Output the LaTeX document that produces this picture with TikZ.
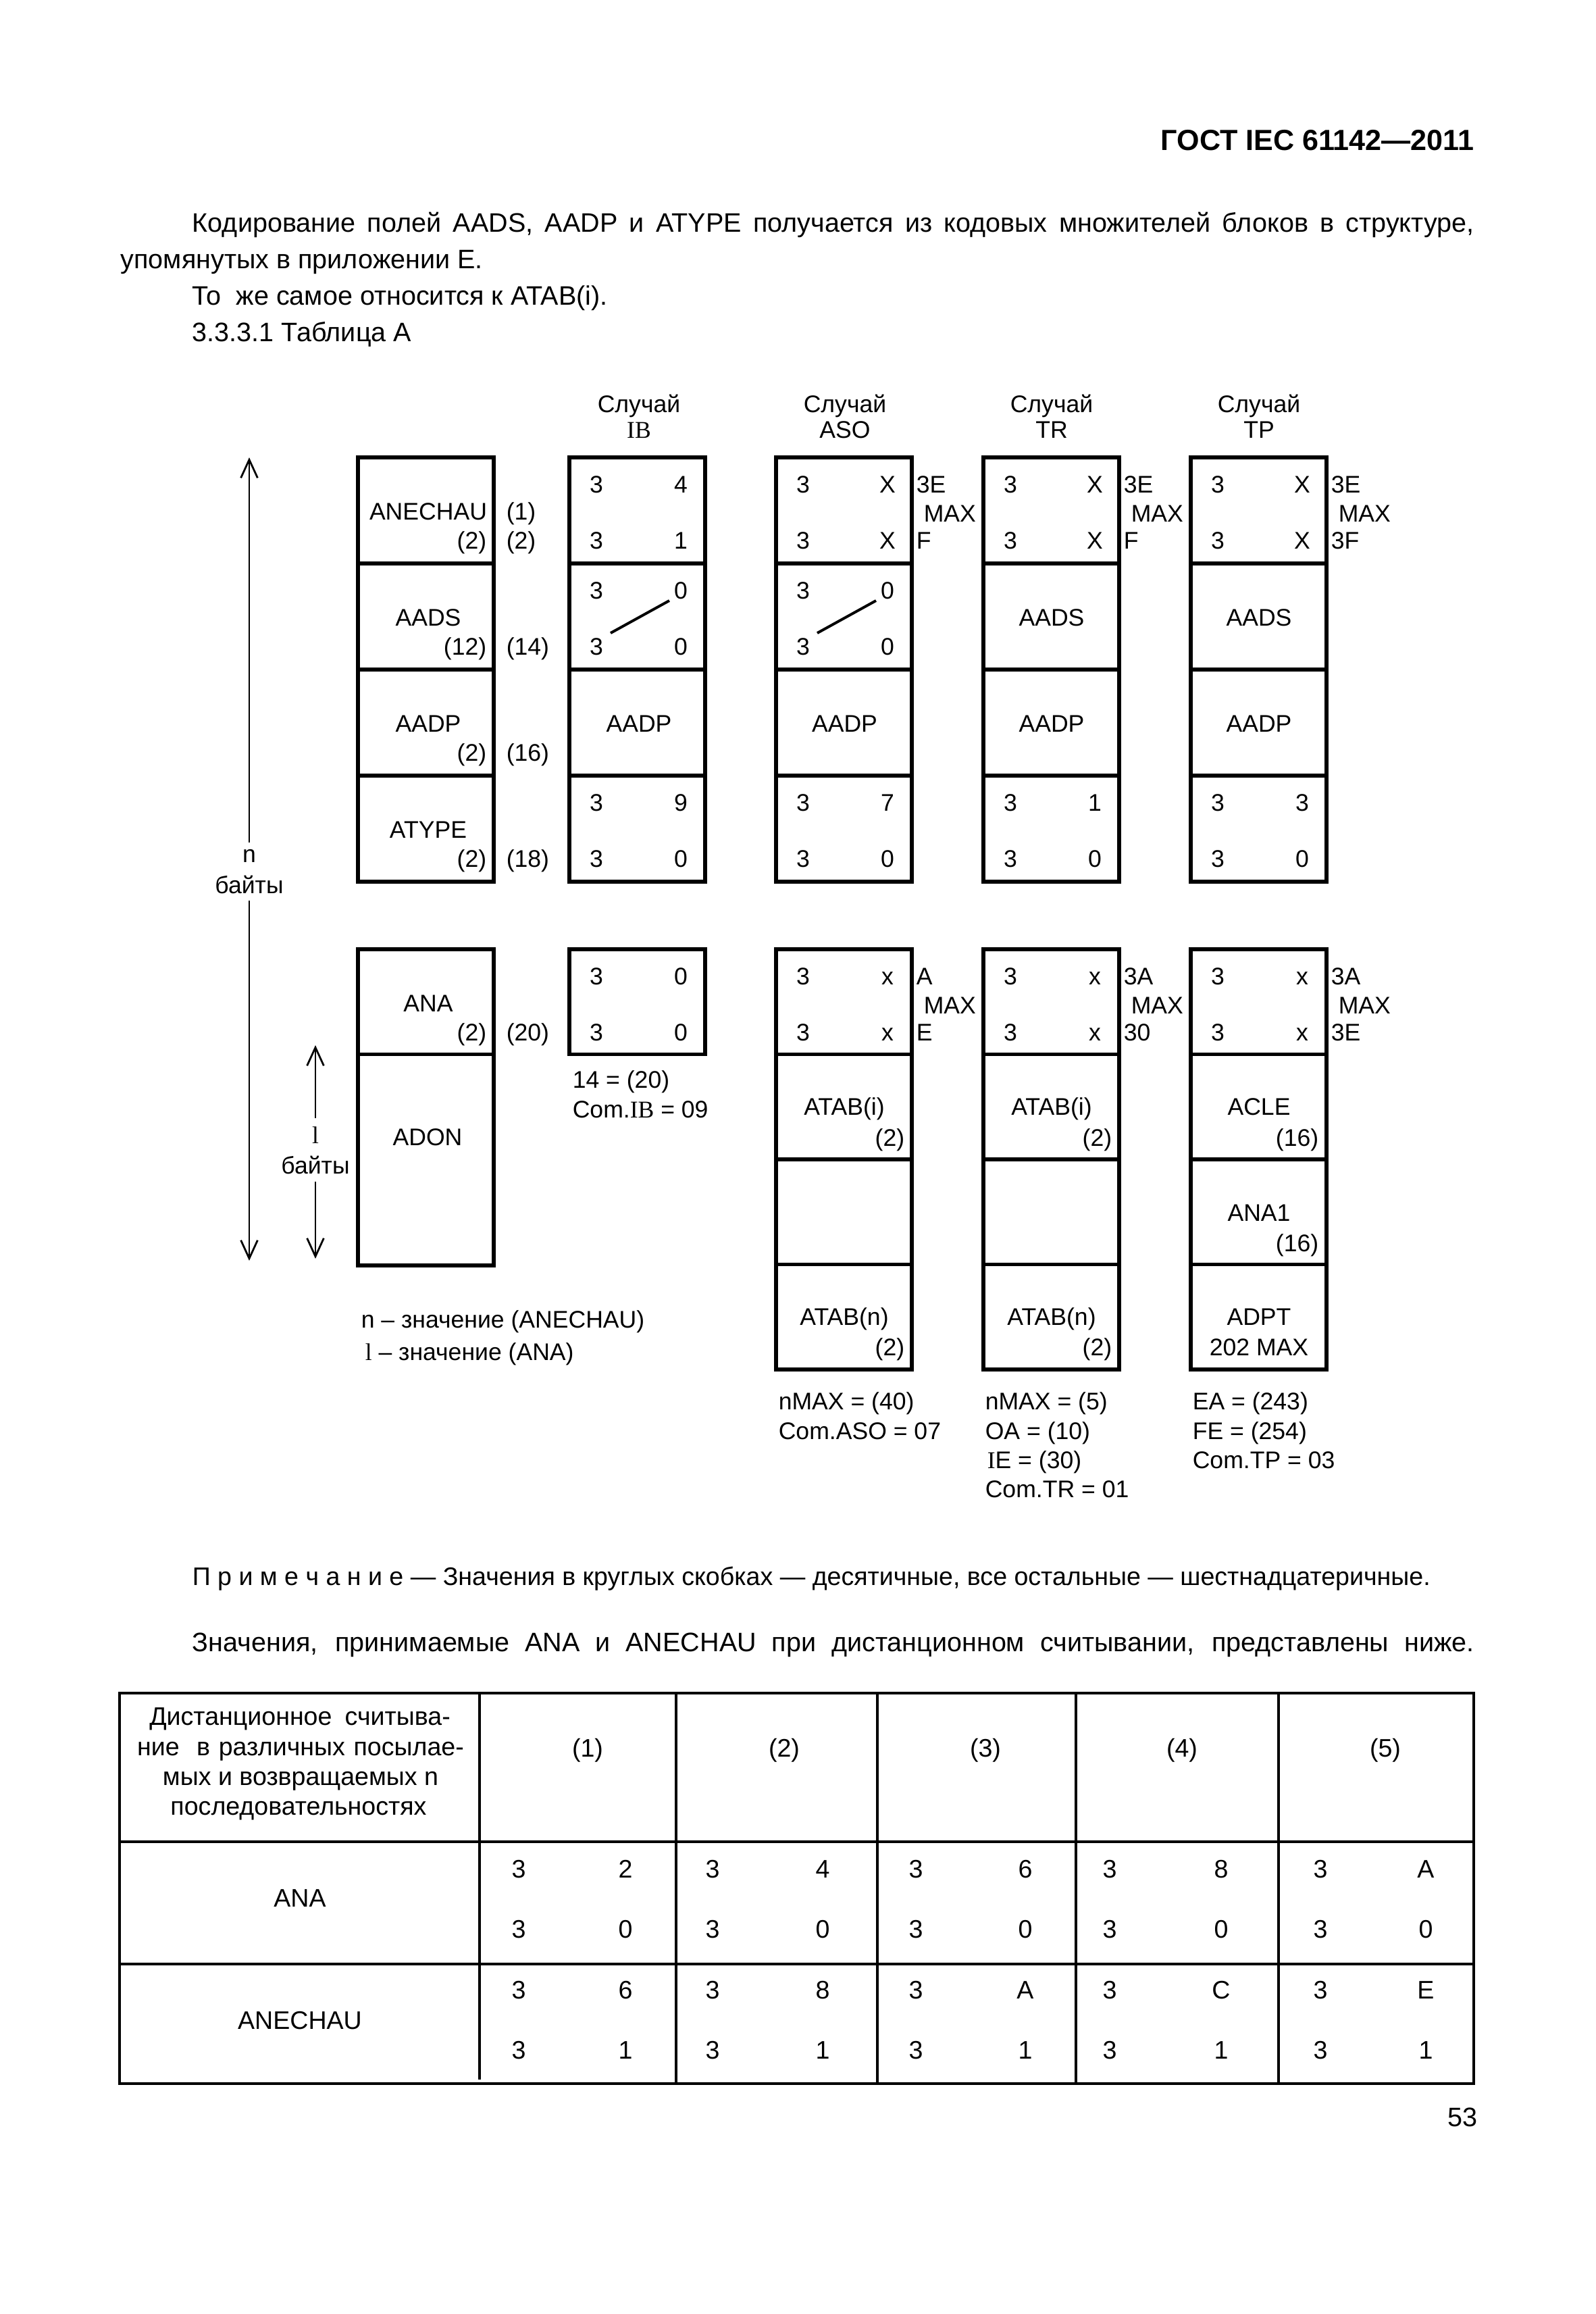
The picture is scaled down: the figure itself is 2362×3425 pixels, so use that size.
\documentclass[tikz,border=0pt]{standalone}
\usepackage{fontspec}
\setmainfont{Liberation Sans}
\newfontfamily\tnr{Liberation Serif}
\usetikzlibrary{arrows.meta}
\newcommand\fsD{\fontsize{9pt}{11pt}\selectfont}
\newcommand\fsB{\fontsize{10pt}{12pt}\selectfont}
\newcommand\fsT{\fontsize{9.5pt}{11pt}\selectfont}
\tikzset{
  box/.style={line width=1.3pt},
  tbl/.style={line width=1pt},
  tblthin/.style={line width=0.8pt},
  diag/.style={line width=1pt},
  arr/.style={line width=0.7pt,-{Straight Barb[length=2.4mm,width=2.2mm]}},
  dt/.style={inner sep=0pt,font=\fsD,anchor=base},
  dtl/.style={dt,anchor=base west},
  dtr/.style={dt,anchor=base east},
  tt/.style={inner sep=0pt,font=\fsT,anchor=base},
  body/.style={inner sep=0pt,font=\fsB,anchor=base west},
}
% column of 4 rows: left, top, row height
\newcommand\colbox[3]{%
  \draw[box] (#1,#2) rectangle ({#1+201},{#2+4*#3});
  \foreach \k in {1,2,3}{\draw[box] (#1,{#2+\k*#3}) -- ({#1+201},{#2+\k*#3});}
}
% four digits in a cell: name, left, top, a, b, c, d
\newcommand\numcell[7]{%
  \node[dt] (#1a) at ({#2+40},{#3+52}) {#4};
  \node[dt] (#1b) at ({#2+165},{#3+52}) {#5};
  \node[dt] (#1c) at ({#2+40},{#3+135}) {#6};
  \node[dt] (#1d) at ({#2+165},{#3+135}) {#7};
}
% side labels: name, left of column, top, t1, t2, t3
\newcommand\sidelab[6]{%
  \node[dtl] (#1a) at ({#2+207},{#3+52}) {#4};
  \node[dtl] (#1b) at ({#2+218},{#3+95}) {#5};
  \node[dtl] (#1c) at ({#2+207},{#3+135}) {#6};
}
% diagonal slash: left, top
\newcommand\slashmark[2]{%
  \draw[diag] ({#1+61},{#2+103}) -- ({#1+148},{#2+55});
}
\begin{document}
\begin{tikzpicture}[x=0.0889mm,y=-0.0889mm]
\fill[white] (0,0) rectangle (2362,3425);
\useasboundingbox (0,0) rectangle (2362,3425);

% ---------- header text ----------
\node[inner sep=0pt,anchor=base east,font=\fontsize{10.9pt}{12pt}\selectfont\bfseries] (gost) at (2183,222) {ГОСТ IEC 61142—2011};
\node[body] (p1) at (284,343) {\makebox[168.7mm][s]{Кодирование полей AADS, AADP и ATYPE получается из кодовых множителей блоков в структуре,}};
\node[body] (p2) at (178,397) {упомянутых в приложении Е.};
\node[body] (p3) at (284,451) {То\ \ же самое относится к ATAB(i).};
\node[body] (p4) at (284,505) {3.3.3.1 Таблица А};

% ---------- case headers ----------
\node[dt] (hIB1) at (946,610) {Случай};
\node[dt,font=\fsD\tnr] (hIB2) at (946,648) {IB};
\node[dt] (hASO1) at (1251,610) {Случай};
\node[dt] (hASO2) at (1251,648) {ASO};
\node[dt] (hTR1) at (1557,610) {Случай};
\node[dt] (hTR2) at (1557,648) {TR};
\node[dt] (hTP1) at (1864,610) {Случай};
\node[dt] (hTP2) at (1864,648) {TP};

% ---------- upper structure ----------
\colbox{530}{677}{157}
\node[dt] (ane1) at (634,769) {ANECHAU};
\node[dtr] (ane1s) at (721,812) {(2)};
\node[dtl] (ane1r) at (749,769) {(1)};
\node[dtl] (ane1q) at (749,812) {(2)};
\node[dt] (ane2) at (634,926) {AADS};
\node[dtr] (ane2s) at (721,969) {(12)};
\node[dtl] (ane2q) at (749,969) {(14)};
\node[dt] (ane3) at (634,1083) {AADP};
\node[dtr] (ane3s) at (721,1126) {(2)};
\node[dtl] (ane3q) at (749,1126) {(16)};
\node[dt] (ane4) at (634,1240) {ATYPE};
\node[dtr] (ane4s) at (721,1283) {(2)};
\node[dtl] (ane4q) at (749,1283) {(18)};

% IB
\colbox{843}{677}{157}
\numcell{ibA}{843}{677}{3}{4}{3}{1}
\numcell{ibB}{843}{834}{3}{0}{3}{0}
\slashmark{843}{834}
\node[dt] (ibC) at (946,1083) {AADP};
\numcell{ibD}{843}{1148}{3}{9}{3}{0}

% ASO
\colbox{1149}{677}{157}
\numcell{asA}{1149}{677}{3}{X}{3}{X}
\sidelab{asS}{1149}{677}{3E}{MAX}{F}
\numcell{asB}{1149}{834}{3}{0}{3}{0}
\slashmark{1149}{834}
\node[dt] (asC) at (1250.5,1083) {AADP};
\numcell{asD}{1149}{1148}{3}{7}{3}{0}

% TR
\colbox{1456}{677}{157}
\numcell{trA}{1456}{677}{3}{X}{3}{X}
\sidelab{trS}{1456}{677}{3E}{MAX}{F}
\node[dt] (trB) at (1557,926) {AADS};
\node[dt] (trC) at (1557,1083) {AADP};
\numcell{trD}{1456}{1148}{3}{1}{3}{0}

% TP
\colbox{1763}{677}{157}
\numcell{tpA}{1763}{677}{3}{X}{3}{X}
\sidelab{tpS}{1763}{677}{3E}{MAX}{3F}
\node[dt] (tpB) at (1864,926) {AADS};
\node[dt] (tpC) at (1864,1083) {AADP};
\numcell{tpD}{1763}{1148}{3}{3}{3}{0}

% ---------- lower structure ----------
\draw[box] (530,1405) rectangle (731,1873);
\draw[box] (530,1560.5) -- (731,1560.5);
\node[dt] (ana) at (634,1497) {ANA};
\node[dtr] (anas) at (721,1540) {(2)};
\node[dtl] (anaq) at (749,1540) {(20)};
\node[dt] (adon) at (633,1695) {ADON};

\draw[box] (843,1405) rectangle (1044,1560.5);
\numcell{ibE}{843}{1405}{3}{0}{3}{0}
\node[dtl] (ibN1) at (847,1610) {14 = (20)};
\node[dtl] (ibN2) at (847,1654) {Com.{\tnr IB} = 09};

% ASO lower
\colbox{1149}{1405}{155.5}
\numcell{asE}{1149}{1405}{3}{x}{3}{x}
\sidelab{asT}{1149}{1405}{A}{MAX}{E}
\node[dt] (asF) at (1250,1650) {ATAB(i)};
\node[dtr] (asFs) at (1340,1696) {(2)};
\node[dt] (asH) at (1250,1961) {ATAB(n)};
\node[dtr] (asHs) at (1340,2006) {(2)};
\node[dtl] (asN1) at (1152,2086) {nMAX = (40)};
\node[dtl] (asN2) at (1152,2130) {Com.ASO = 07};

% TR lower
\colbox{1456}{1405}{155.5}
\numcell{trE}{1456}{1405}{3}{x}{3}{x}
\sidelab{trT}{1456}{1405}{3A}{MAX}{30}
\node[dt] (trF) at (1557,1650) {ATAB(i)};
\node[dtr] (trFs) at (1647,1696) {(2)};
\node[dt] (trH) at (1557,1961) {ATAB(n)};
\node[dtr] (trHs) at (1647,2006) {(2)};
\node[dtl] (trN1) at (1458,2086) {nMAX = (5)};
\node[dtl] (trN2) at (1458,2130) {OA = (10)};
\node[dtl] (trN3) at (1461,2173) {{\tnr I}E = (30)};
\node[dtl] (trN4) at (1458,2216) {Com.TR = 01};

% TP lower
\colbox{1763}{1405}{155.5}
\numcell{tpE}{1763}{1405}{3}{x}{3}{x}
\sidelab{tpT}{1763}{1405}{3A}{MAX}{3E}
\node[dt] (tpF) at (1864,1650) {ACLE};
\node[dtr] (tpFs) at (1953,1696) {(16)};
\node[dt] (tpG) at (1864,1807) {ANA1};
\node[dtr] (tpGs) at (1953,1852) {(16)};
\node[dt] (tpH) at (1864,1961) {ADPT};
\node[dt] (tpHs) at (1864,2006) {202 MAX};
\node[dtl] (tpN1) at (1765,2086) {EA = (243)};
\node[dtl] (tpN2) at (1765,2130) {FE = (254)};
\node[dtl] (tpN3) at (1765,2173) {Com.TP = 03};

% ---------- arrows ----------
\coordinate (ntop) at (369,677);
\coordinate (nbot) at (369,1866);
\coordinate (na1) at (369,1247);
\coordinate (na2) at (369,1333);
\node[dt] (nn) at (369,1276) {n};
\node[dt] (nby) at (369,1322) {байты};
\draw[arr] (na1) -- (ntop);
\draw[arr] (na2) -- (nbot);

\coordinate (ltop) at (467,1547);
\coordinate (lbot) at (467,1863);
\coordinate (la1) at (467,1655);
\coordinate (la2) at (467,1749);
\node[dt,font=\fsD\tnr] (ll) at (467,1692) {l};
\node[dt] (lby) at (467,1737) {байты};
\draw[arr] (la1) -- (ltop);
\draw[arr] (la2) -- (lbot);

% legend
\node[dtl] (leg1) at (534,1965) {n – значение (ANECHAU)};
\node[dtl] (leg2) at (540,2013) {{\tnr l} – значение (ANA)};

% ---------- note ----------
\node[inner sep=0pt,anchor=base west,font=\fontsize{9.5pt}{11pt}\selectfont] (note) at (284,2346) {П р и м е ч а н и е — Значения в круглых скобках — десятичные, все остальные — шестнадцатеричные.};
\node[body] (p5) at (284,2444) {\makebox[168.7mm][s]{Значения, принимаемые ANA и ANECHAU при дистанционном считывании, представлены ниже.}};

% ---------- table ----------
\draw[tbl] (177,2506) rectangle (2182,3084);
\draw[tbl] (177,2726) -- (2182,2726);
\draw[tbl] (177,2907) -- (2182,2907);
\draw[tblthin] (710,2506) -- (710,3078);
\foreach \x in {1001,1299,1593,1893}{\draw[tblthin] (\x,2506) -- (\x,3084);}
\node[tt] (th1) at (444,2553) {\makebox[39.6mm][s]{Дистанционное считыва-}};
\node[tt] (th2) at (445,2598) {\makebox[43.0mm][s]{ние \ в различных посылае-}};
\node[tt] (th3) at (445,2642) {мых и возвращаемых n};
\node[tt] (th4) at (442,2686) {последовательностях};
\node[tt] (tANA) at (444,2822) {ANA};
\node[tt] (tANE) at (444,3003) {ANECHAU};
\foreach \a/\b/\u/\w/\c/\n in {768/926/2/6/870/1, 1055/1218/4/8/1161/2, 1356/1518/6/A/1459/3, 1643/1808/8/C/1750/4, 1955/2111/A/E/2051/5}{
  \node[tt] (tc\n) at (\c,2600) {(\n)};
  \node[tt] (ta\n) at (\a,2779) {3};
  \node[tt] (tb\n) at (\b,2779) {\u};
  \node[tt] (tc\n x) at (\a,2868) {3};
  \node[tt] (td\n) at (\b,2868) {0};
  \node[tt] (te\n) at (\a,2958) {3};
  \node[tt] (tf\n) at (\b,2958) {\w};
  \node[tt] (tg\n) at (\a,3047) {3};
  \node[tt] (th\n x) at (\b,3047) {1};
}
\node[body] (pg) at (2143,3147) {53};
\end{tikzpicture}
\end{document}
